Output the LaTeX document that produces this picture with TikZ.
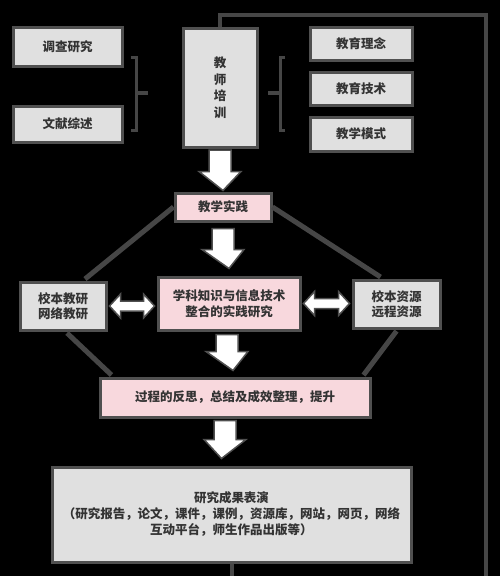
\documentclass[tikz,border=0pt]{standalone}
\usepackage{fontspec}
\setmainfont{Noto Sans CJK SC}
\usetikzlibrary{calc}
\definecolor{boxgray}{HTML}{E0E0E0}
\definecolor{boxpink}{HTML}{F8D8DD}
\definecolor{edge}{HTML}{505050}
\definecolor{linegray}{HTML}{464646}
\definecolor{txt}{HTML}{333333}
\tikzset{
  box/.style={draw=edge, line width=3pt, fill=boxgray, text=txt, font=\fontsize{12.5}{15.5}\selectfont\bfseries, align=center, inner sep=0pt},
  pinkbox/.style={box, fill=boxpink},
  bigarr/.style={draw=edge, line width=1.5pt, fill=white, line join=miter},
  diag/.style={draw=linegray, line width=5pt},
  loopline/.style={draw=linegray, line width=4pt},
  brk/.style={draw=linegray, line width=3pt},
}
\newcommand\bigarrow[5]{%
  \draw[bigarr] let \p1=($(#1.south)+(#3,#4)$), \p2=($(#2.north)+(#3,-#5)$) in
    (\x1-11pt,\y1) -- (\x1-11pt,\y2+19pt) -- (\x1-21pt,\y2+19pt) -- (\x2,\y2)
    -- (\x1+21pt,\y2+19pt) -- (\x1+11pt,\y2+19pt) -- (\x1+11pt,\y1) -- cycle;}
\newcommand\dblarrow[2]{%
  \draw[bigarr] let \p1=($(#1.east)+(2,0)$), \p2=($(#2.west)+(-2,0)$) in
    (\x1,\y1) -- (\x1+11pt,\y1+12pt) -- (\x1+11pt,\y1+5pt) -- (\x2-11pt,\y1+5pt)
    -- (\x2-11pt,\y1+12pt) -- (\x2,\y1) -- (\x2-11pt,\y1-12pt) -- (\x2-11pt,\y1-5pt)
    -- (\x1+11pt,\y1-5pt) -- (\x1+11pt,\y1-12pt) -- cycle;}
\begin{document}
\begin{tikzpicture}[x=1pt,y=-1pt]
\fill[black] (0,0) rectangle (500,576);
\useasboundingbox (0,0) rectangle (500,576);

% top loop line
\coordinate (lc1) at (486,15);
\coordinate (lc2) at (486,580);

% nodes
\node[box, minimum width=109pt, minimum height=39pt] (dc) at (67.5,46.5) {调查研究};
\node[box, minimum width=109pt, minimum height=36pt] (wx) at (67.5,124) {文献综述};
\node[box, minimum width=74pt, minimum height=119pt, font=\fontsize{12.5}{16.5}\selectfont\bfseries] (js) at (220,87.5) {教\\师\\培\\训};
\node[box, minimum width=102pt, minimum height=33pt] (ln) at (361,43.5) {教育理念};
\node[box, minimum width=102pt, minimum height=33pt] (jj) at (361,88.5) {教育技术};
\node[box, minimum width=102pt, minimum height=34pt] (ms) at (361,134) {教学模式};
\node[pinkbox, minimum width=96pt, minimum height=28pt] (sj) at (223,207) {教学实践};
\node[pinkbox, minimum width=142pt, minimum height=53pt] (xk) at (229,303.5) {学科知识与信息技术\\整合的实践研究};
\node[box, minimum width=86pt, minimum height=48pt] (jy) at (63,306) {校本教研\\网络教研};
\node[box, minimum width=87pt, minimum height=48pt] (zy) at (396.5,304) {校本资源\\远程资源};
\node[pinkbox, minimum width=270pt, minimum height=39pt] (gc) at (235,397.5) {过程的反思，总结及成效整理，提升};
\node[box, minimum width=359pt, minimum height=95pt, font=\fontsize{12.5}{16}\selectfont\bfseries] (cg) at (231.5,514.5) {研究成果表演\\（研究报告，论文，课件，课例，资源库，网站，网页，网络\\互动平台，师生作品出版等）};

% loop and bottom lines
\draw[loopline] (js.north) |- (lc1) -- (lc2);
\draw[loopline] (cg.south) -- (cg.south |- lc2);

% brackets
\draw[brk] (131,57) -- (136,57) -- (136,130) -- (131,130);
\draw[linegray, line width=4pt] (136,93) -- (148,93);
\draw[brk] (285,57) -- (280,57) -- (280,130) -- (285,130);
\draw[linegray, line width=4pt] (268,93) -- (280,93);

% diagonal connectors
\draw[diag] (sj.west) -- ($(jy.north)+(22,-1.5)$);
\draw[diag] (sj.east) -- ($(zy.north)+(-16,-1.5)$);
\draw[diag] ($(jy.south)+(4,1.5)$) -- ($(gc.north west)+(13,-1.5)$);
\draw[diag] ($(zy.south)+(0,1.5)$) -- ($(gc.north east)+(-8,-1.5)$);

% big arrows
\bigarrow{js}{sj}{0}{1.5}{1}
\bigarrow{sj}{xk}{0}{6}{7}
\bigarrow{xk}{gc}{-2}{3}{6}
\bigarrow{gc}{cg}{-10}{2}{7}

% double arrows
\dblarrow{jy}{xk}
\dblarrow{xk}{zy}
\end{tikzpicture}
\end{document}
